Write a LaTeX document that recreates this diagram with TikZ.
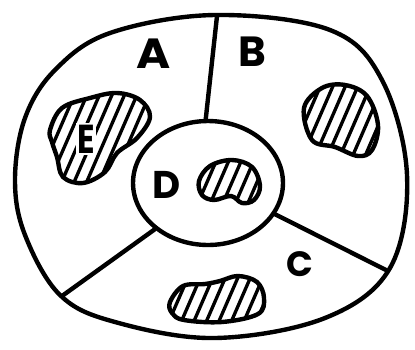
\documentclass[tikz,border=0pt]{standalone}
\usepackage{fontspec}
\newfontfamily\hand{Poppins}
\usetikzlibrary{shapes.geometric,calc}
\tikzset{
  heavy/.style={line width=2.5pt, line join=round, line cap=round},
  blob/.style={heavy, path picture={
      \foreach \k in {-8,...,12}
        \draw[hatch] ($(path picture bounding box.south west)+(\k*12.5,0)$) -- ++(40,-92);
    }},
  hatch/.style={line width=1.9pt, line cap=round},
  lab/.style={font=\hand\bfseries, inner sep=0pt}
}
\begin{document}
\begin{tikzpicture}[x=0.02cm,y=-0.02cm]
\useasboundingbox (0,0) rectangle (415,349);
% outer boundary
\draw[heavy] plot[smooth cycle, tension=0.6] coordinates {
  (215,15) (330,30) (382,80) (407,175) (390,268) (325,318) (215,338)
  (115,322) (60,295) (25,235) (15,180) (25,118) (55,70) (110,33)};
% central circle
\node[ellipse, draw, heavy, minimum width=3cm, minimum height=2.48cm, inner sep=0pt] (Dc) at (208,183) {};
% dividing lines
\coordinate (top) at (217,16);
\coordinate (bl) at (62,296);
\coordinate (br) at (386,270);
\draw[heavy] (Dc.92) -- (top);
\draw[heavy] (Dc.221) -- (bl);
\draw[heavy] (Dc.335) -- (br);
% blobs
\draw[blob] plot[smooth cycle, tension=0.6] coordinates {
  (50,130) (62,108) (90,98) (117,93) (140,100) (150,117) (137,138)
  (117,153) (105,172) (83,183) (63,177) (57,157) (52,142)};
\draw[blob] plot[smooth cycle, tension=0.6] coordinates {
  (304,108) (322,88) (345,85) (367,96) (378,125) (372,150) (358,156)
  (335,147) (312,140)};
\draw[blob] plot[smooth cycle, tension=0.6] coordinates {
  (199,181) (210,166) (232,160) (252,167) (260,186) (254,200) (242,203)
  (231,196) (214,200) (202,195)};
\draw[blob] plot[smooth cycle, tension=0.6] coordinates {
  (170,302) (183,286) (205,284) (220,281) (238,276) (257,282) (264,298)
  (258,314) (222,322) (184,320) (172,313)};
% labels
\node[lab, font=\hand\bfseries\fontsize{24}{24}\selectfont, xscale=1.1] (A) at (154,54) {A};
\node[lab, font=\hand\bfseries\fontsize{24}{24}\selectfont] (B) at (252,52) {B};
\node[lab, font=\hand\bfseries\fontsize{20}{20}\selectfont] (C) at (300,264) {C};
\node[lab, font=\hand\bfseries\fontsize{22}{22}\selectfont] (D) at (167,185) {D};
\node[lab, fill=white, inner sep=0.8pt, xscale=0.8, font=\hand\bfseries\fontsize{23}{23}\selectfont] (E) at (86,139) {E};
\end{tikzpicture}
\end{document}
